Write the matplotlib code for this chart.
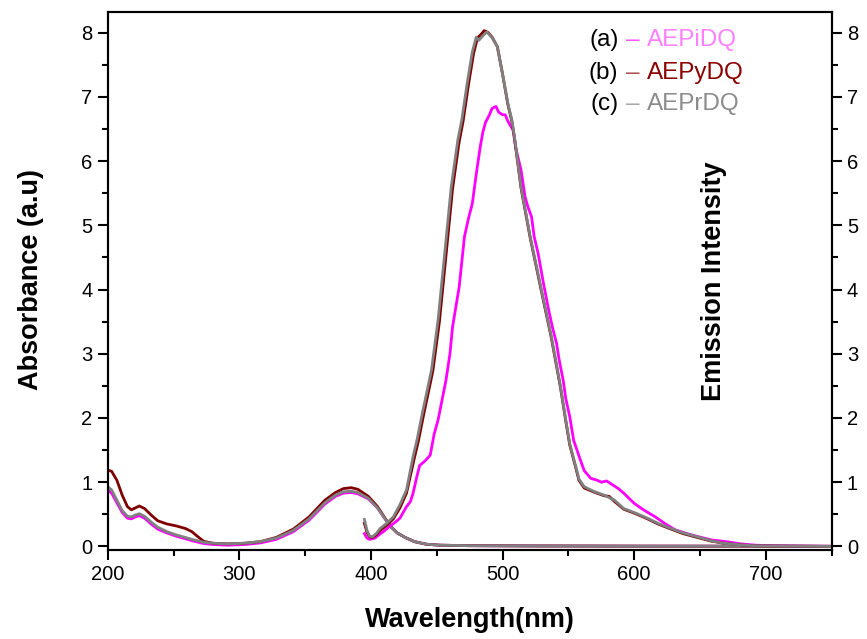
import numpy as np
import matplotlib
matplotlib.use('Agg')
import matplotlib.pyplot as plt
from matplotlib.ticker import MultipleLocator

plt.rcParams['font.family'] = ['Liberation Sans', 'DejaVu Sans']

# absorbance spectra (left axis)
abs_wl = [200, 203, 207, 211, 215, 218, 221, 224, 228, 233, 238, 245, 252, 259, 264, 268, 273,
          280, 291, 304, 316, 328, 341, 353, 365, 373, 379, 385, 390, 398, 405, 410, 415, 420,
          426, 433, 442, 452, 475, 520, 600, 750]
abs_a = [0.88, 0.83, 0.68, 0.53, 0.44, 0.43, 0.46, 0.48, 0.44, 0.35, 0.27, 0.21, 0.16, 0.12, 0.09,
         0.07, 0.045, 0.03, 0.02, 0.03, 0.055, 0.11, 0.23, 0.41, 0.66, 0.78, 0.83, 0.84, 0.82,
         0.74, 0.60, 0.45, 0.31, 0.21, 0.14, 0.075, 0.035, 0.02, 0.012, 0.008, 0.005, 0.003]
abs_b = [1.19, 1.17, 1.03, 0.80, 0.62, 0.57, 0.60, 0.63, 0.59, 0.49, 0.40, 0.35, 0.32, 0.28, 0.23,
         0.16, 0.08, 0.05, 0.04, 0.05, 0.075, 0.14, 0.27, 0.46, 0.72, 0.84, 0.90, 0.915, 0.89,
         0.78, 0.62, 0.46, 0.31, 0.21, 0.14, 0.075, 0.035, 0.02, 0.012, 0.008, 0.005, 0.003]
abs_c = [0.93, 0.88, 0.72, 0.56, 0.47, 0.46, 0.49, 0.51, 0.47, 0.38, 0.30, 0.23, 0.18, 0.14, 0.11,
         0.09, 0.065, 0.05, 0.04, 0.05, 0.075, 0.13, 0.25, 0.43, 0.68, 0.80, 0.85, 0.86, 0.84,
         0.75, 0.60, 0.45, 0.31, 0.21, 0.14, 0.075, 0.035, 0.02, 0.012, 0.008, 0.005, 0.003]

# emission spectra (right axis)
em_wl_a = [395, 397, 399, 403, 406, 410, 414, 418, 422, 427, 430, 432, 435, 437, 441, 445, 448,
           451, 454, 457, 460, 462, 467, 471, 474, 477, 480, 483, 485, 487, 490, 492, 495, 497,
           500, 502, 504, 508, 510, 514, 517, 519, 522, 524, 527, 531, 535, 538, 541, 543, 546,
           548, 551, 554, 559, 562, 567, 572, 575, 579, 582, 588, 592, 600, 607, 616, 623, 631,
           640, 649, 659, 670, 681, 692, 707, 750]
em_a = [0.20, 0.13, 0.11, 0.13, 0.18, 0.24, 0.31, 0.37, 0.44, 0.62, 0.70, 0.83, 1.10, 1.26, 1.33,
        1.42, 1.75, 1.97, 2.28, 2.59, 3.00, 3.42, 4.04, 4.82, 5.10, 5.34, 5.80, 6.22, 6.45, 6.60,
        6.72, 6.82, 6.85, 6.76, 6.72, 6.72, 6.62, 6.48, 6.20, 5.86, 5.45, 5.30, 5.13, 4.82, 4.56,
        4.10, 3.68, 3.40, 3.16, 2.90, 2.59, 2.30, 2.02, 1.65, 1.35, 1.18, 1.06, 1.03, 1.00, 1.02,
        0.98, 0.90, 0.83, 0.67, 0.57, 0.46, 0.36, 0.26, 0.20, 0.15, 0.10, 0.075, 0.04, 0.02,
        0.01, 0.0]
em_wl_b = [395, 397, 399, 401, 404, 407, 412, 417, 422, 427, 433, 436, 440, 447, 452, 457, 462,
           467, 470, 474, 478, 481, 484, 486, 489, 492, 496, 500, 504, 507, 509, 514, 521, 529,
           537, 544, 548, 551, 555, 558, 562, 569, 577, 581, 585, 592, 601, 610, 618, 628, 637,
           648, 658, 668, 681, 691, 715, 750]
em_b = [0.36, 0.22, 0.15, 0.14, 0.18, 0.25, 0.33, 0.43, 0.60, 0.83, 1.38, 1.64, 2.05, 2.73, 3.50,
        4.53, 5.57, 6.30, 6.62, 7.18, 7.68, 7.92, 7.98, 8.03, 8.00, 7.93, 7.78, 7.35, 6.88, 6.62,
        6.36, 5.58, 4.80, 4.02, 3.25, 2.47, 1.95, 1.58, 1.27, 1.03, 0.91, 0.85, 0.79, 0.78, 0.70,
        0.58, 0.51, 0.43, 0.35, 0.27, 0.20, 0.14, 0.085, 0.05, 0.025, 0.01, 0.005, 0.0]
em_wl_c = [395, 397, 399, 401, 404, 407, 412, 417, 422, 427, 432, 435, 439, 446, 451, 456, 461,
           466, 469, 473, 477, 480, 482, 485, 488, 492, 496, 500, 504, 507, 509, 514, 521, 529,
           537, 544, 548, 551, 555, 558, 562, 569, 577, 585, 592, 601, 610, 618, 628, 637, 648,
           658, 668, 681, 691, 715, 750]
em_c = [0.42, 0.25, 0.16, 0.15, 0.20, 0.28, 0.36, 0.46, 0.65, 0.88, 1.40, 1.66, 2.07, 2.75, 3.53,
        4.56, 5.60, 6.33, 6.64, 7.20, 7.70, 7.93, 7.88, 7.95, 8.01, 7.92, 7.78, 7.35, 6.90, 6.64,
        6.38, 5.60, 4.82, 4.04, 3.27, 2.49, 1.97, 1.60, 1.29, 1.05, 0.93, 0.86, 0.80, 0.72, 0.59,
        0.52, 0.44, 0.36, 0.28, 0.21, 0.15, 0.09, 0.05, 0.025, 0.01, 0.005, 0.0]

labels = ['(a)', '(b)', '(c)']
names = ['AEPiDQ', 'AEPyDQ', 'AEPrDQ']
line_colors = ['#FF00FF', '#800000', '#808080']
name_colors = ['#FF80FF', '#8B0000', '#8C8C8C']
dash_colors = ['#FF55FF', '#B05050', '#A8A8A8']

fig = plt.figure(figsize=(8.67, 6.39), dpi=100)
ax = fig.add_axes([0.1242, 0.1393, 0.8351, 0.8419])
ax2 = ax.twinx()

for wl, a, e, ew, c in [(abs_wl, abs_a, em_a, em_wl_a, line_colors[0]),
                        (abs_wl, abs_b, em_b, em_wl_b, line_colors[1]),
                        (abs_wl, abs_c, em_c, em_wl_c, line_colors[2])]:
    ax.plot(wl, a, color=c, lw=2.0)
    ax2.plot(ew, e, color=c, lw=2.0)

for a_ in (ax, ax2):
    a_.set_xlim(200, 750)
    a_.set_ylim(-0.055, 8.32)
    a_.yaxis.set_major_locator(MultipleLocator(1))
    a_.yaxis.set_minor_locator(MultipleLocator(0.5))
    for s in a_.spines.values():
        s.set_linewidth(1.5)

ax.xaxis.set_major_locator(MultipleLocator(100))
ax.xaxis.set_minor_locator(MultipleLocator(50))
ax.tick_params(which='major', direction='out', length=7.5, width=1.5, labelsize=14.5, top=False)
ax.tick_params(which='minor', direction='out', length=4, width=1.5, top=False)
ax2.tick_params(which='major', direction='out', length=7.5, width=1.5, labelsize=14.5)
ax2.tick_params(which='minor', direction='out', length=4, width=1.5)

# axis titles, placed like the original
ax.set_xlabel('Wavelength(nm)', fontsize=19.5, fontweight='bold')
ax.set_ylabel('Absorbance (a.u)', fontsize=19.5, fontweight='bold')
ax.xaxis.set_label_coords((470 - 107.7) / 724, (550 - 607) / 538)
ax.yaxis.set_label_coords((44 - 107.7) / 724, (550 - 279) / 538)
ax2.set_ylabel('Emission Intensity', fontsize=19.5, fontweight='bold')
ax2.yaxis.set_label_coords((701 - 107.7) / 724, (550 - 281) / 538)

# legend made of text pieces
rows_y = [7.88, 7.37, 6.89]
for i in range(3):
    ax.text(588, rows_y[i], labels[i], ha='right', va='center', fontsize=17.5, color='black')
    ax.text(599, rows_y[i], '\u2013', ha='center', va='center', fontsize=17.5, color=dash_colors[i])
    ax.text(609.5, rows_y[i], names[i], ha='left', va='center', fontsize=17.5, color=name_colors[i])

fig.savefig('out.png', dpi=100)
